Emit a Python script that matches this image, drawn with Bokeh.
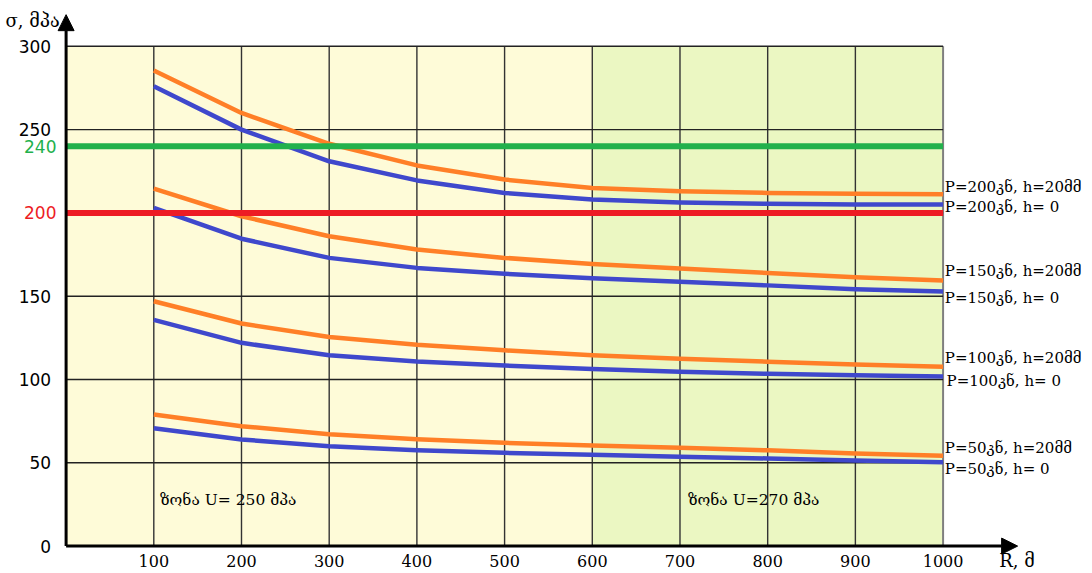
from bokeh.plotting import figure
from bokeh.models import Range1d, FixedTicker, LinearAxis, Arrow, NormalHead
from bokeh.core.properties import value
from bokeh.embed import file_html
from bokeh.resources import INLINE

# ---- data ----
R = [100, 200, 300, 400, 500, 600, 700, 800, 900, 1000]
s200_h20 = [285.5, 260.0, 241.5, 228.5, 220.0, 215.0, 213.0, 212.0, 211.5, 211.2]
s200_h0 = [276.0, 250.0, 231.0, 219.5, 212.0, 208.0, 206.2, 205.5, 205.0, 205.0]
s150_h20 = [214.6, 198.0, 186.0, 178.0, 173.0, 169.4, 166.6, 163.9, 161.4, 159.4]
s150_h0 = [203.0, 184.5, 173.0, 167.0, 163.5, 160.8, 158.7, 156.5, 154.2, 152.8]
s100_h20 = [147.0, 133.6, 125.5, 120.8, 117.5, 114.6, 112.5, 110.7, 109.0, 107.6]
s100_h0 = [135.8, 122.0, 114.5, 110.8, 108.4, 106.3, 104.7, 103.4, 102.6, 101.8]
s50_h20 = [79.0, 72.0, 67.2, 64.2, 62.0, 60.4, 59.0, 57.5, 55.6, 54.2]
s50_h0 = [70.8, 64.0, 60.0, 57.6, 56.0, 54.8, 53.7, 52.6, 51.4, 50.4]

series_labels = ["P=200კნ, h=20მმ", "P=200კნ, h= 0",
                 "P=150კნ, h=20მმ", "P=150კნ, h= 0",
                 "P=100კნ, h=20მმ", "P=100კნ, h= 0",
                 "P=50კნ, h=20მმ", "P=50კნ, h= 0"]
x_ticks = [100, 200, 300, 400, 500, 600, 700, 800, 900, 1000]
y_ticks = [0, 50, 100, 150, 250, 300]
limit_green = 240
limit_red = 200
zone1 = (0, 600)
zone2 = (600, 1000)
zone_labels = ["ზონა U= 250 მპა", "ზონა  U=270 მპა"]
y_title = "σ, მპა"
x_title = "R, მ"

# ---- styles / layout ----
ORANGE = "#FF7F27"
BLUE = "#3F48CC"
GREEN = "#22B14C"
RED = "#ED1C24"
YELLOW_BG = "#FEFBD8"
GREEN_BG = "#EBF7C2"
SERIF = value("DejaVu Serif")
SANS = value("DejaVu Sans")

p = figure(width=1090, height=571, output_backend="svg", toolbar_location=None,
           x_range=Range1d(-74.8, 1168.1), y_range=Range1d(-15.25, 327.5),
           x_axis_location=None, y_axis_location=None,
           min_border_left=0, min_border_right=0, min_border_top=0, min_border_bottom=0)
p.grid.visible = False
p.outline_line_color = None
p.background_fill_color = "white"

# zones
p.quad(left=[zone1[0]], right=[zone1[1]], bottom=[0], top=[300], fill_color=YELLOW_BG, line_color=None)
p.quad(left=[zone2[0]], right=[zone2[1]], bottom=[0], top=[300], fill_color=GREEN_BG, line_color=None)

# grid
vx = [x for x in x_ticks if x < 1000]
p.segment(x0=vx, y0=[0] * len(vx), x1=vx, y1=[300] * len(vx), line_color="#333333", line_width=1.4)
p.segment(x0=[1000], y0=[0], x1=[1000], y1=[300], line_color="#7f7f7f", line_width=2)
hy = [50, 100, 150, 200, 250, 300]
p.segment(x0=[0] * len(hy), y0=hy, x1=[1000] * len(hy), y1=hy, line_color="#222222", line_width=1.4)

# curves
for ys, col in [(s200_h20, ORANGE), (s200_h0, BLUE), (s150_h20, ORANGE), (s150_h0, BLUE),
                (s100_h20, ORANGE), (s100_h0, BLUE), (s50_h20, ORANGE), (s50_h0, BLUE)]:
    p.line(R, ys, line_color=col, line_width=4.5, line_join="round")

# limits
p.segment(x0=[0], y0=[limit_green], x1=[1000], y1=[limit_green], line_color=GREEN, line_width=6)
p.segment(x0=[0], y0=[limit_red], x1=[1000], y1=[limit_red], line_color=RED, line_width=6)

# axes placed at data zero
xax = LinearAxis(fixed_location=0, ticker=FixedTicker(ticks=x_ticks))
yax = LinearAxis(fixed_location=0, ticker=FixedTicker(ticks=y_ticks))
for ax in (xax, yax):
    ax.axis_line_color = None
    ax.major_tick_line_color = None
    ax.minor_tick_line_color = None
    ax.major_label_text_color = "black"
xax.major_label_text_font = "DejaVu Serif"
xax.major_label_text_font_size = "16px"
xax.major_label_standoff = 3
yax.major_label_text_font = "DejaVu Sans"
yax.major_label_text_font_size = "17px"
yax.major_label_standoff = 9
p.add_layout(xax, "below")
p.add_layout(yax, "left")

# series labels at right
label_y = [215.8, 203.6, 165.4, 149.2, 113.2, 98.8, 58.6, 46.0]
label_x = [1002, 1002, 1002, 1002, 1002, 1004, 1002, 1002]
p.text(x=label_x, y=label_y, text=series_labels, text_font=SERIF, text_font_size="15px",
       text_color="black", text_baseline="middle", text_align="left")

# zone labels
p.text(x=[107, 709], y=[27.5, 27.5], text=zone_labels, text_font=SERIF, text_font_size="15.5px",
       text_color="black", text_baseline="middle", text_align="left")

# colored y labels for the limits
p.text(x=[-11, -11], y=[limit_green, limit_red], text=[str(limit_green), str(limit_red)],
       text_color=[GREEN, RED], text_font=SANS, text_font_size="17px",
       text_align="right", text_baseline="middle")

# axis titles
p.text(x=[-69], y=[315.5], text=[y_title], text_font=SERIF, text_font_size="18px",
       text_color="black", text_align="left", text_baseline="middle")
p.text(x=[1064], y=[-8.5], text=[x_title], text_font=SERIF, text_font_size="18px",
       text_color="black", text_align="left", text_baseline="middle")

# axis arrows
p.add_layout(Arrow(end=NormalHead(size=16, fill_color="black", line_color="black"),
                   x_start=0, y_start=0, x_end=0, y_end=319, line_width=3, line_color="black"))
p.add_layout(Arrow(end=NormalHead(size=16, fill_color="black", line_color="black"),
                   x_start=0, y_start=0, x_end=1085, y_end=0, line_width=3, line_color="black"))

open("out.html", "w").write(file_html(p, INLINE))
